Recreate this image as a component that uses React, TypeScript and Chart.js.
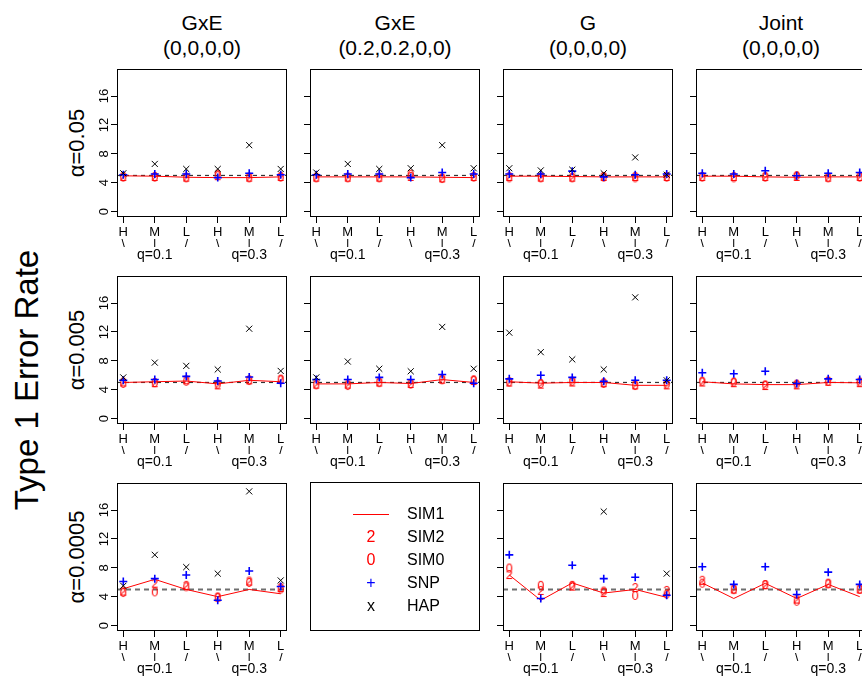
import React, { useEffect, useRef } from "react";
import { Chart, registerables } from "chart.js";

Chart.register(...registerables);

const FONT = "'Liberation Sans', Arial, Helvetica, sans-serif";

// ---------- axis / label data ----------
const xIndex = [0, 1, 2, 3, 4, 5];
const freqLabels = ["H", "M", "L", "H", "M", "L"];
const trendMarks = ["\\", "|", "/", "\\", "|", "/"];
const qTickIndex = [1, 4];
const qLabels = ["q=0.1", "q=0.3"];
const yTicks = [0, 4, 8, 12, 16];
const yMin = -0.76;
const yMax = 19.76;
const nominalRate = 5;
const columnTitles = [
  ["GxE", "(0,0,0,0)"],
  ["GxE", "(0.2,0.2,0,0)"],
  ["G", "(0,0,0,0)"],
  ["Joint", "(0,0,0,0)"],
];
const rowLabels = ["α=0.05", "α=0.005", "α=0.0005"];
const yAxisTitle = "Type 1 Error Rate";
const legendNames = ["SIM1", "SIM2", "SIM0", "SNP", "HAP"];

// ---------- α = 0.05 ----------
const sim1_a05_gxe0 = [4.95, 4.9, 4.75, 4.7, 4.7, 4.8];
const sim2_a05_gxe0 = [4.8, 4.8, 4.7, 4.9, 4.7, 4.8];
const sim0_a05_gxe0 = [4.7, 4.7, 4.6, 5.1, 4.6, 4.7];
const snp_a05_gxe0 = [5.1, 5.2, 5.2, 4.7, 5.3, 5.1];
const hap_a05_gxe0 = [5.3, 6.6, 5.9, 5.9, 9.2, 5.9];

const sim1_a05_gxe2 = [4.8, 4.8, 4.8, 4.8, 4.75, 4.7];
const sim2_a05_gxe2 = [4.7, 4.7, 4.7, 4.8, 4.6, 4.8];
const sim0_a05_gxe2 = [4.6, 4.6, 4.6, 5.1, 4.5, 4.7];
const snp_a05_gxe2 = [5.1, 5.2, 5.2, 4.7, 5.4, 5.2];
const hap_a05_gxe2 = [5.4, 6.6, 5.9, 6.0, 9.2, 6.0];

const sim1_a05_g = [4.9, 4.9, 4.85, 4.8, 4.8, 4.8];
const sim2_a05_g = [4.8, 4.7, 4.7, 4.8, 4.8, 4.8];
const sim0_a05_g = [4.6, 4.6, 4.6, 4.7, 4.6, 4.7];
const snp_a05_g = [5.2, 5.2, 5.6, 4.8, 5.1, 5.2];
const hap_a05_g = [6.0, 5.7, 5.8, 5.3, 7.5, 5.1];

const sim1_a05_joint = [4.9, 4.9, 4.8, 4.75, 4.8, 4.8];
const sim2_a05_joint = [4.8, 4.8, 4.8, 4.8, 4.7, 4.8];
const sim0_a05_joint = [4.7, 4.6, 4.7, 4.9, 4.6, 4.7];
const snp_a05_joint = [5.3, 5.2, 5.65, 4.95, 5.3, 5.4];

// ---------- α = 0.005 ----------
const sim1_a005_gxe0 = [5.0, 5.1, 5.2, 4.8, 5.3, 5.1];
const sim2_a005_gxe0 = [5.0, 4.9, 5.3, 4.6, 5.3, 5.4];
const sim0_a005_gxe0 = [4.8, 4.9, 5.1, 4.7, 5.2, 5.3];
const snp_a005_gxe0 = [5.3, 5.4, 5.85, 5.2, 5.75, 4.9];
const hap_a005_gxe0 = [5.7, 7.75, 7.3, 6.8, 12.45, 6.6];

const sim1_a005_gxe2 = [4.8, 4.8, 5.0, 4.85, 5.4, 5.0];
const sim2_a005_gxe2 = [4.7, 4.7, 5.0, 4.8, 5.4, 5.2];
const sim0_a005_gxe2 = [4.6, 4.5, 4.9, 4.7, 5.3, 5.3];
const snp_a005_gxe2 = [5.4, 5.4, 5.7, 5.4, 6.1, 4.9];
const hap_a005_gxe2 = [5.7, 7.9, 6.9, 6.55, 12.7, 6.9];

const sim1_a005_g = [5.1, 4.9, 5.0, 5.0, 4.6, 4.6];
const sim2_a005_g = [5.0, 4.7, 5.0, 4.9, 4.6, 4.6];
const sim0_a005_g = [5.0, 4.8, 5.1, 4.8, 4.5, 4.7];
const snp_a005_g = [5.5, 6.0, 5.7, 5.15, 5.3, 5.3];
const hap_a005_g = [11.9, 9.2, 8.2, 6.8, 16.8, 5.3];

const sim1_a005_joint = [5.1, 4.8, 4.7, 4.7, 5.0, 4.95];
const sim2_a005_joint = [5.0, 4.9, 4.5, 4.6, 5.1, 4.9];
const sim0_a005_joint = [5.1, 5.0, 4.6, 4.7, 5.1, 5.0];
const snp_a005_joint = [6.35, 6.2, 6.55, 4.85, 5.5, 5.4];

// ---------- α = 0.0005 ----------
const sim1_a0005_gxe0 = [5.1, 6.4, 5.0, 4.0, 5.0, 4.4];
const sim2_a0005_gxe0 = [4.7, 5.8, 5.5, 3.9, 6.1, 5.2];
const sim0_a0005_gxe0 = [4.5, 4.6, 5.3, 3.8, 5.9, 5.0];
const snp_a0005_gxe0 = [6.1, 6.5, 7.0, 3.5, 7.55, 5.4];
const hap_a0005_gxe0 = [5.5, 9.8, 8.1, 7.2, 18.6, 6.25];

const sim1_a0005_g = [7.0, 3.5, 5.9, 4.5, 5.0, 3.9];
const sim2_a0005_g = [7.0, 4.8, 5.4, 4.5, 5.2, 4.8];
const sim0_a0005_g = [7.9, 5.5, 5.5, 4.7, 4.1, 4.3];
const snp_a0005_g = [9.8, 3.75, 8.35, 6.5, 6.7, 4.2];
const hap_a0005_g = [null, null, null, 15.8, null, 7.2];

const sim1_a0005_joint = [5.9, 3.75, 5.85, 3.75, 5.7, 4.0];
const sim2_a0005_joint = [6.2, 5.0, 5.6, 3.6, 5.8, 5.0];
const sim0_a0005_joint = [5.8, 4.9, 5.6, 3.3, 5.7, 4.95];
const snp_a0005_joint = [8.15, 5.7, 8.15, 4.3, 7.4, 5.7];

type Series = (number | null)[];
interface PanelDef {
  row: number;
  col: number;
  sim1: Series;
  sim2: Series;
  sim0: Series;
  snp: Series;
  hap: Series | null;
}

const panels: PanelDef[] = [
  { row: 0, col: 0, sim1: sim1_a05_gxe0, sim2: sim2_a05_gxe0, sim0: sim0_a05_gxe0, snp: snp_a05_gxe0, hap: hap_a05_gxe0 },
  { row: 0, col: 1, sim1: sim1_a05_gxe2, sim2: sim2_a05_gxe2, sim0: sim0_a05_gxe2, snp: snp_a05_gxe2, hap: hap_a05_gxe2 },
  { row: 0, col: 2, sim1: sim1_a05_g, sim2: sim2_a05_g, sim0: sim0_a05_g, snp: snp_a05_g, hap: hap_a05_g },
  { row: 0, col: 3, sim1: sim1_a05_joint, sim2: sim2_a05_joint, sim0: sim0_a05_joint, snp: snp_a05_joint, hap: null },
  { row: 1, col: 0, sim1: sim1_a005_gxe0, sim2: sim2_a005_gxe0, sim0: sim0_a005_gxe0, snp: snp_a005_gxe0, hap: hap_a005_gxe0 },
  { row: 1, col: 1, sim1: sim1_a005_gxe2, sim2: sim2_a005_gxe2, sim0: sim0_a005_gxe2, snp: snp_a005_gxe2, hap: hap_a005_gxe2 },
  { row: 1, col: 2, sim1: sim1_a005_g, sim2: sim2_a005_g, sim0: sim0_a005_g, snp: snp_a005_g, hap: hap_a005_g },
  { row: 1, col: 3, sim1: sim1_a005_joint, sim2: sim2_a005_joint, sim0: sim0_a005_joint, snp: snp_a005_joint, hap: null },
  { row: 2, col: 0, sim1: sim1_a0005_gxe0, sim2: sim2_a0005_gxe0, sim0: sim0_a0005_gxe0, snp: snp_a0005_gxe0, hap: hap_a0005_gxe0 },
  { row: 2, col: 2, sim1: sim1_a0005_g, sim2: sim2_a0005_g, sim0: sim0_a0005_g, snp: snp_a0005_g, hap: hap_a0005_g },
  { row: 2, col: 3, sim1: sim1_a0005_joint, sim2: sim2_a0005_joint, sim0: sim0_a0005_joint, snp: snp_a0005_joint, hap: null },
];

// ---------- layout ----------
const COL_LEFTS = [117, 310, 503, 696];
const ROW_TOPS = [69, 276, 483];
const BOX_W = 170;
const BOX_H = 148;
const Y_AXIS_W = 40;
const PAD_T = 6;
const PAD_R = 6;
const X_AXIS_H = 30;
const Q_AXIS_H = 24;
const CANVAS_W = Y_AXIS_W + BOX_W + PAD_R;
const CANVAS_H = PAD_T + BOX_H + X_AXIS_H + Q_AXIS_H;

function textPoint(ch: string, color: string): HTMLCanvasElement {
  const c = document.createElement("canvas");
  c.width = 10;
  c.height = 14;
  const g = c.getContext("2d")!;
  g.fillStyle = color;
  g.font = `12.5px ${FONT}`;
  g.textAlign = "center";
  g.textBaseline = "alphabetic";
  g.fillText(ch, 5, 11.4);
  return c;
}

function toPoints(arr: Series) {
  const out: { x: number; y: number }[] = [];
  arr.forEach((v, i) => {
    if (v !== null && v !== undefined) out.push({ x: xIndex[i], y: v });
  });
  return out;
}

function Panel({ p }: { p: PanelDef }) {
  const ref = useRef<HTMLCanvasElement>(null);
  useEffect(() => {
    const canvas = ref.current!;
    const lastRow = p.row === 2;
    const boxPlugin = {
      id: "panelBox",
      afterDraw(chart: any) {
        const { ctx, chartArea: a } = chart;
        ctx.save();
        ctx.strokeStyle = "#000";
        ctx.lineWidth = 1;
        ctx.strokeRect(
          Math.round(a.left) + 0.5,
          Math.round(a.top) + 0.5,
          Math.round(a.right - a.left) - 1,
          Math.round(a.bottom - a.top) - 1
        );
        if (p.col === 0) {
          const ys = chart.scales.y;
          ctx.fillStyle = "#000";
          ctx.font = `13px ${FONT}`;
          ctx.textAlign = "center";
          ctx.textBaseline = "alphabetic";
          yTicks.forEach((v) => {
            ctx.save();
            ctx.translate(a.left - 9.5, ys.getPixelForValue(v));
            ctx.rotate(-Math.PI / 2);
            ctx.fillText(String(v), 0, 0);
            ctx.restore();
          });
        }
        ctx.restore();
      },
    };

    const datasets: any[] = [
      {
        label: "nominal",
        data: [
          { x: -0.2, y: nominalRate },
          { x: 5.2, y: nominalRate },
        ],
        borderColor: lastRow ? "#6e6e6e" : "#333",
        borderWidth: lastRow ? 2 : 1.2,
        borderDash: lastRow ? [5, 4] : [4, 4],
        pointRadius: 0,
        order: 6,
      },
      {
        label: legendNames[0],
        data: toPoints(p.sim1),
        borderColor: "#ff0000",
        borderWidth: 1,
        pointRadius: 0,
        tension: 0,
        order: 5,
      },
      {
        label: legendNames[1],
        data: toPoints(p.sim2),
        showLine: false,
        pointStyle: textPoint("2", "#ff0000"),
        pointRadius: 5,
        order: 4,
      },
      {
        label: legendNames[2],
        data: toPoints(p.sim0),
        showLine: false,
        pointStyle: textPoint("0", "#ff0000"),
        pointRadius: 5,
        order: 3,
      },
      {
        label: legendNames[3],
        data: toPoints(p.snp),
        showLine: false,
        pointStyle: "cross",
        pointRadius: 4,
        pointBorderWidth: 1.6,
        pointBorderColor: "#0000ff",
        borderColor: "#0000ff",
        order: 2,
      },
    ];
    if (p.hap) {
      datasets.push({
        label: legendNames[4],
        data: toPoints(p.hap),
        showLine: false,
        pointStyle: "crossRot",
        pointRadius: 4.3,
        pointBorderWidth: 1,
        pointBorderColor: "#000",
        borderColor: "#000",
        order: 1,
      });
    }

    const chart = new Chart(canvas, {
      type: "line",
      data: { datasets },
      options: {
        responsive: false,
        animation: false,
        devicePixelRatio: 1,
        events: [],
        layout: { padding: { top: PAD_T, right: PAD_R, left: 0, bottom: 0 } },
        plugins: {
          legend: { display: false },
          tooltip: { enabled: false },
        },
        scales: {
          x: {
            type: "linear",
            position: "bottom",
            min: -0.2,
            max: 5.2,
            weight: 0,
            afterBuildTicks: (s: any) => {
              s.ticks = xIndex.map((v) => ({ value: v }));
            },
            afterFit: (s: any) => {
              s.height = X_AXIS_H;
            },
            ticks: {
              autoSkip: false,
              maxRotation: 0,
              minRotation: 0,
              padding: 3,
              color: "#000",
              font: { family: FONT, size: 13, lineHeight: 0.95 },
              callback: (_v: any, i: number) => [freqLabels[i], trendMarks[i]],
            },
            grid: { drawOnChartArea: false, drawTicks: true, tickLength: 6, color: "#000", lineWidth: 1 },
            border: { display: false },
          },
          q: {
            type: "linear",
            axis: "x",
            position: "bottom",
            min: -0.2,
            max: 5.2,
            weight: 1,
            afterBuildTicks: (s: any) => {
              s.ticks = qTickIndex.map((v) => ({ value: v }));
            },
            afterFit: (s: any) => {
              s.height = Q_AXIS_H;
            },
            ticks: {
              autoSkip: false,
              maxRotation: 0,
              minRotation: 0,
              padding: 1,
              color: "#000",
              font: { family: FONT, size: 14, lineHeight: 1 },
              callback: (_v: any, i: number) => qLabels[i],
            },
            grid: { display: false, drawTicks: false },
            border: { display: false },
          },
          y: {
            type: "linear",
            min: yMin,
            max: yMax,
            afterBuildTicks: (s: any) => {
              s.ticks = yTicks.map((v) => ({ value: v }));
            },
            afterFit: (s: any) => {
              s.width = Y_AXIS_W;
            },
            ticks: { display: false },
            grid: { drawOnChartArea: false, drawTicks: true, tickLength: 6, color: "#000", lineWidth: 1 },
            border: { display: false },
          },
        },
      } as any,
      plugins: [boxPlugin],
    });
    return () => chart.destroy();
  }, [p]);

  return (
    <canvas
      ref={ref}
      width={CANVAS_W}
      height={CANVAS_H}
      style={{
        position: "absolute",
        left: COL_LEFTS[p.col] - Y_AXIS_W,
        top: ROW_TOPS[p.row] - PAD_T,
        width: CANVAS_W,
        height: CANVAS_H,
      }}
    />
  );
}

function Legend() {
  const left = COL_LEFTS[1];
  const top = ROW_TOPS[2] - 1;
  const rowCenters = [31, 54, 77, 100, 123];
  const symbols: [string, string][] = [
    ["", "#ff0000"],
    ["2", "#ff0000"],
    ["0", "#ff0000"],
    ["+", "#0000ff"],
    ["x", "#000"],
  ];
  return (
    <div
      style={{
        position: "absolute",
        left,
        top,
        width: BOX_W,
        height: BOX_H + 1,
        boxSizing: "border-box",
        border: "1px solid #000",
        fontFamily: FONT,
        fontSize: 16,
      }}
    >
      {legendNames.map((name, i) => (
        <React.Fragment key={name}>
          {i === 0 ? (
            <div
              style={{
                position: "absolute",
                left: 42,
                width: 36,
                top: rowCenters[i],
                borderTop: "1px solid #ff0000",
              }}
            />
          ) : (
            <div
              style={{
                position: "absolute",
                left: 50,
                width: 20,
                top: rowCenters[i] - 10,
                height: 20,
                lineHeight: "20px",
                textAlign: "center",
                color: symbols[i][1],
              }}
            >
              {symbols[i][0]}
            </div>
          )}
          <div
            style={{
              position: "absolute",
              left: 96,
              top: rowCenters[i] - 10,
              height: 20,
              lineHeight: "20px",
              color: "#000",
              whiteSpace: "nowrap",
            }}
          >
            {name}
          </div>
        </React.Fragment>
      ))}
    </div>
  );
}

export default function App() {
  return (
    <div
      style={{
        position: "fixed",
        left: 0,
        top: 0,
        width: 862,
        height: 677,
        overflow: "hidden",
        background: "#fff",
        fontFamily: FONT,
        color: "#000",
      }}
    >
      {columnTitles.map((t, c) => (
        <div
          key={c}
          style={{
            position: "absolute",
            left: COL_LEFTS[c] - 20,
            width: BOX_W + 40,
            top: 10,
            textAlign: "center",
            fontSize: 21,
            lineHeight: "25px",
            whiteSpace: "nowrap",
          }}
        >
          <div>{t[0]}</div>
          <div>{t[1]}</div>
        </div>
      ))}
      {rowLabels.map((label, r) => (
        <div
          key={r}
          style={{
            position: "absolute",
            left: 77,
            top: ROW_TOPS[r] + BOX_H / 2,
            transform: "translate(-50%, -50%) rotate(-90deg)",
            fontSize: 22,
            whiteSpace: "nowrap",
          }}
        >
          {label}
        </div>
      ))}
      <div
        style={{
          position: "absolute",
          left: 27,
          top: 380,
          transform: "translate(-50%, -50%) rotate(-90deg)",
          fontSize: 33,
          whiteSpace: "nowrap",
        }}
      >
        {yAxisTitle}
      </div>
      {panels.map((p) => (
        <Panel key={`${p.row}-${p.col}`} p={p} />
      ))}
      <Legend />
    </div>
  );
}
